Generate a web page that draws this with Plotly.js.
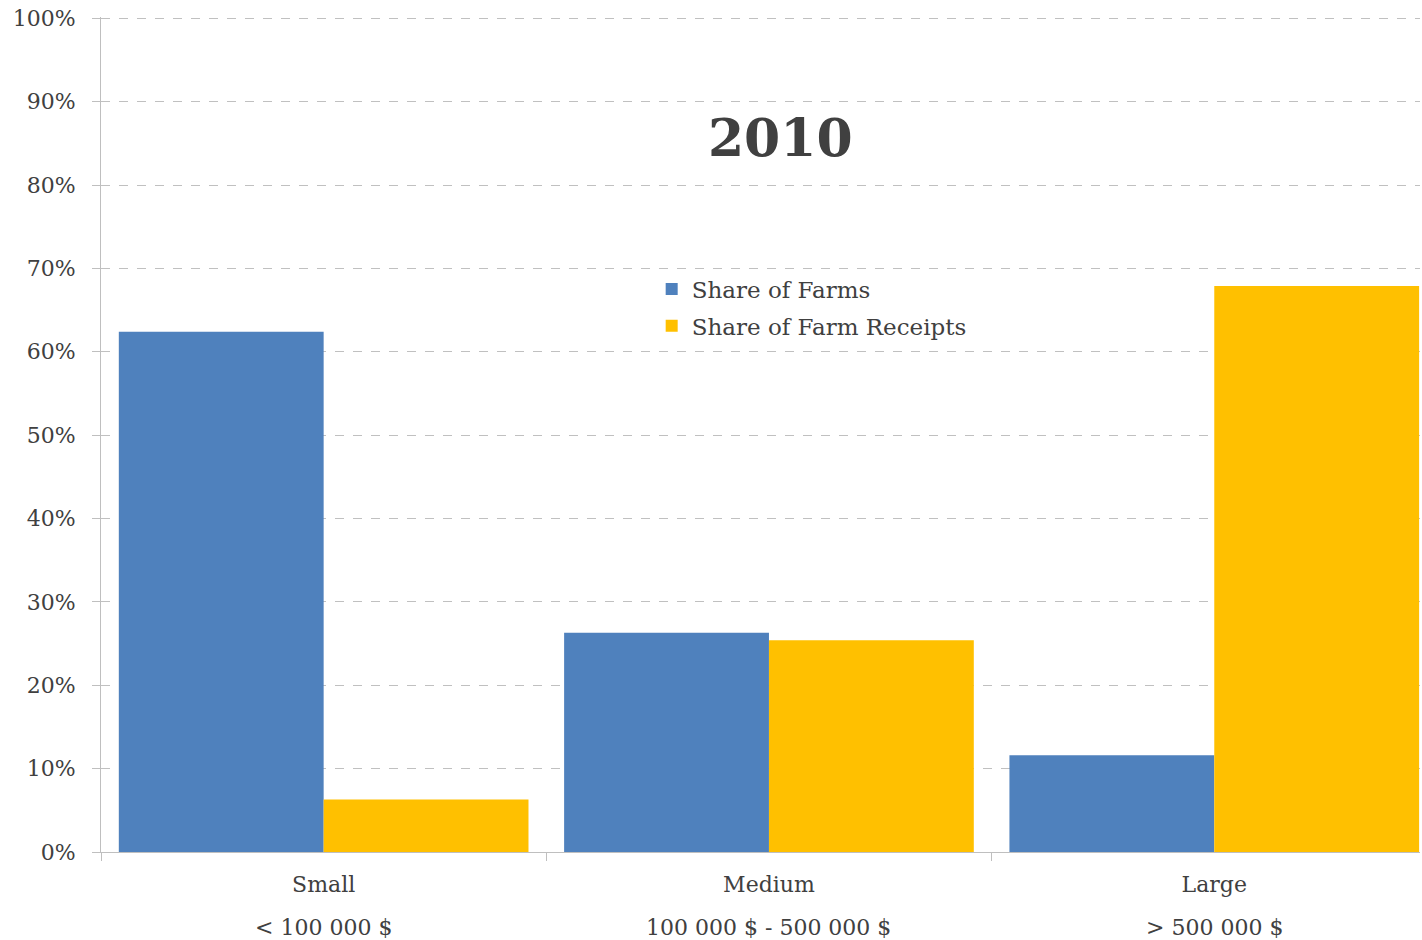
<!DOCTYPE html>
<html>
<head>
<meta charset="utf-8">
<script src="https://cdn.plot.ly/plotly-3.0.1.min.js"></script>
<style>html,body{margin:0;padding:0;background:#fff;}#chart{width:1422px;height:940px;}</style>
</head>
<body>
<div id="chart"></div>
<script>
const categories = ["Small", "Medium", "Large"];
const categoryRanges = ["< 100 000 $", "100 000 $ - 500 000 $", "> 500 000 $"];
const shareOfFarms = [62.4, 26.3, 11.6];
const shareOfFarmReceipts = [6.3, 25.4, 67.9];
const yTicks = [0, 10, 20, 30, 40, 50, 60, 70, 80, 90, 100];
const chartTitle = "2010";

const FONT = "DejaVu Serif, Georgia, serif";
const TXT = "#404040";

const traces = [
  {type: "bar", name: "Share of Farms", x: categories, y: shareOfFarms, legendgroup: "a",
   marker: {color: "#4F81BD"}, hoverinfo: "skip"},
  {type: "bar", name: "Share of Farm Receipts", x: categories, y: shareOfFarmReceipts, legendgroup: "b",
   marker: {color: "#FFC000"}, hoverinfo: "skip"}
];

const annotations = categories.map((c, i) => ({
  x: c, xref: "x", yref: "paper", y: 0, yshift: -75, yanchor: "middle",
  text: categoryRanges[i], showarrow: false,
  font: {family: FONT, size: 22, color: TXT}
}));

const layout = {
  width: 1422, height: 940,
  margin: {l: 101, r: 2, t: 17, b: 88},
  paper_bgcolor: "#fff", plot_bgcolor: "#fff",
  barmode: "group", bargap: 0.08, bargroupgap: 0,
  title: {text: "<b>" + chartTitle + "</b>", x: 0.515, xref: "paper", xanchor: "center",
          y: 0.853, yref: "container", yanchor: "middle",
          font: {family: FONT, size: 52, color: TXT}},
  showlegend: true,
  legend: {x: 0.4175, y: 0.70, xanchor: "left", yanchor: "top", traceorder: "grouped",
           font: {family: FONT, size: 23, color: TXT},
           bgcolor: "rgba(0,0,0,0)", tracegroupgap: 4, itemwidth: 30},
  xaxis: {type: "category", range: [-0.5, 2.462], fixedrange: true,
          showgrid: false, showline: true, linecolor: "#bfbfbf", linewidth: 1,
          ticks: "outside", tickson: "boundaries", ticklen: 8, tickcolor: "#bfbfbf",
          tickfont: {family: FONT, size: 22, color: TXT}, ticklabelstandoff: 13,
          zeroline: false},
  yaxis: {range: [0, 100.15], tickvals: yTicks, ticktext: yTicks.map(v => v + "%"),
          showgrid: true, gridcolor: "#c0c0c0", griddash: "dash", gridwidth: 1,
          showline: true, linecolor: "#bfbfbf", linewidth: 1,
          ticks: "outside", ticklen: 8, tickcolor: "#bfbfbf",
          tickfont: {family: FONT, size: 22, color: TXT}, ticklabelstandoff: 12,
          zeroline: false, fixedrange: true},
  annotations: annotations
};

Plotly.newPlot("chart", traces, layout, {displayModeBar: false, staticPlot: true});
</script>
</body>
</html>
